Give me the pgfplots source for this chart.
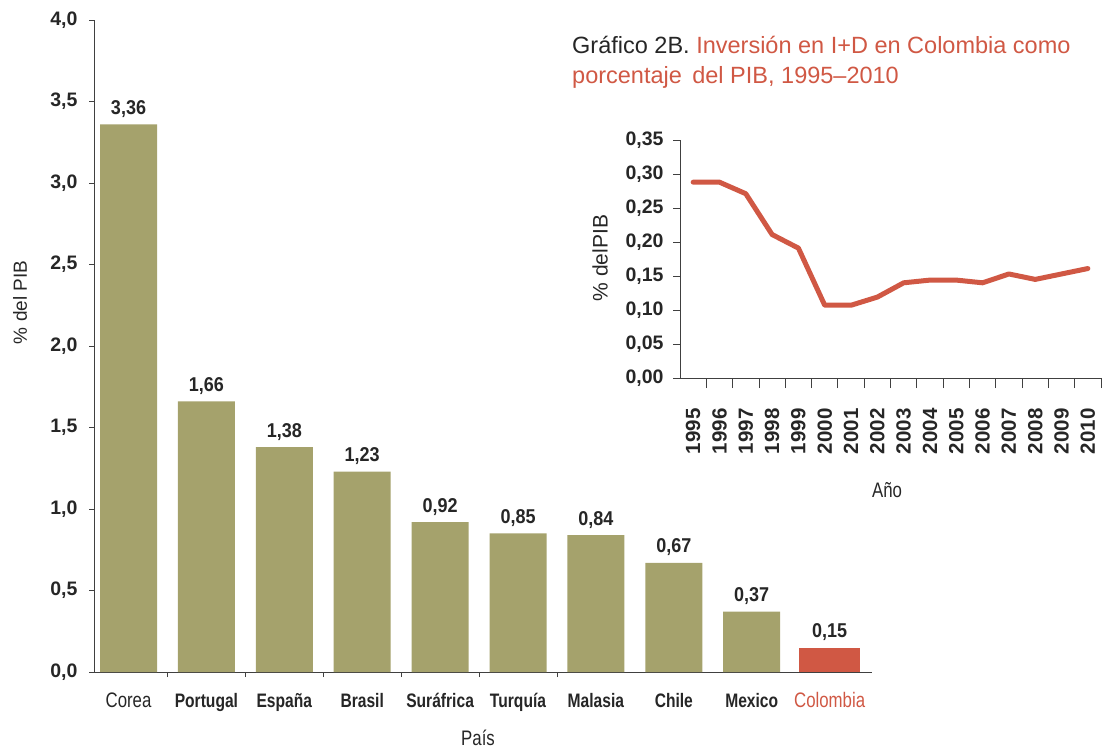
\documentclass[border=0pt]{standalone}
\usepackage{fontspec}
\setmainfont{Liberation Sans}
\newfontfamily\narrowfont[FakeStretch=0.80]{Liberation Sans}
\newfontfamily\midfont[FakeStretch=0.90]{Liberation Sans}
\usepackage{pgfplots}
\pgfplotsset{compat=1.18}
\definecolor{barolive}{HTML}{A5A26C}
\definecolor{colred}{HTML}{D05844}
\definecolor{txt}{HTML}{262626}
\newcommand{\fs}[1]{\fontsize{#1}{#1}\selectfont}
\begin{document}
\begin{tikzpicture}
\useasboundingbox (0pt,0pt) rectangle (1102pt,-753pt);
% ---------------- main bar chart ----------------
\begin{axis}[
  at={(94pt,-672pt)}, anchor=south west,
  scale only axis, width=778pt, height=652pt,
  xmin=-0.443, xmax=9.544, ymin=0, ymax=4,
  axis lines=left, axis line style={-, draw=black!75, line width=1pt},
  tick align=outside, major tick length=5pt,
  tick style={draw=black!75, line width=0.8pt},
  ytick={0,0.5,1,1.5,2,2.5,3,3.5,4},
  yticklabel style={font=\bfseries\fs{19.5}, text=txt, xshift=-8pt},
  /pgf/number format/.cd, use comma, fixed, fixed zerofill, precision=1, assume math mode=true, /pgfplots/.cd,
  xtick={0,1,2,3,4,5,6,7,8,9},
  x tick style={draw=none},
  xticklabels={{\fs{21}Corea},{\bfseries Portugal},{\bfseries España},{\bfseries Brasil},{\bfseries Suráfrica},{\bfseries Turquía},{\bfseries Malasia},{\bfseries Chile},{\bfseries Mexico},{\fs{21}\color{colred}Colombia}},
  xticklabel style={font=\narrowfont\fs{19.5}, text=txt, anchor=base, yshift=-30pt},
  extra x ticks={0.5,1.5,2.5,3.5,4.5,5.5},
  extra x tick labels={},
  extra x tick style={x tick style={draw=black!75, line width=0.8pt}},
  ylabel={\% del PIB},
  ylabel style={at={(axis description cs:-0.095,0.567)}, anchor=center, font=\fs{19}, text=txt},
  xlabel={País},
  xlabel style={at={(axis description cs:0.4936,-0.1006)}, anchor=center, font=\narrowfont\fs{21}, text=txt},
  clip=false,
]
\addplot[ybar, bar width=57pt, bar shift=0pt, fill=barolive, draw=none,
  nodes near coords={\pgfmathprintnumber[use comma, fixed, fixed zerofill, precision=2, assume math mode=true]{\pgfplotspointmeta}},
  nodes near coords style={font=\bfseries\midfont\fs{20}, text=txt, anchor=base, yshift=10pt}]
  coordinates {(0,3.36) (1,1.66) (2,1.38) (3,1.23) (4,0.92) (5,0.85) (6,0.84) (7,0.67) (8,0.37)};
\addplot[ybar, bar width=61pt, bar shift=0pt, fill=colred, draw=none,
  nodes near coords={\pgfmathprintnumber[use comma, fixed, fixed zerofill, precision=2, assume math mode=true]{\pgfplotspointmeta}},
  nodes near coords style={font=\bfseries\midfont\fs{20}, text=txt, anchor=base, yshift=10pt}]
  coordinates {(9,0.15)};
\end{axis}
% ---------------- inset line chart ----------------
\begin{axis}[
  at={(680pt,-378pt)}, anchor=south west,
  scale only axis, width=421pt, height=238pt,
  xmin=1994.5, xmax=2010.5, ymin=0, ymax=0.35,
  axis lines=left, axis line style={-, draw=black!75, line width=1pt},
  tick align=outside, major tick length=7pt, minor tick length=10pt,
  tick style={draw=black!75, line width=0.8pt},
  ytick={0,0.05,0.1,0.15,0.2,0.25,0.3,0.35},
  yticklabel style={font=\bfseries\fs{19.5}, text=txt, xshift=-6pt},
  /pgf/number format/.cd, use comma, fixed, fixed zerofill, precision=2, assume math mode=true, /pgfplots/.cd,
  xtick={1995,1996,1997,1998,1999,2000,2001,2002,2003,2004,2005,2006,2007,2008,2009,2010},
  xticklabels={1995,1996,1997,1998,1999,2000,2001,2002,2003,2004,2005,2006,2007,2008,2009,2010},
  x tick style={draw=none},
  minor xtick={1995.5,1996.5,1997.5,1998.5,1999.5,2000.5,2001.5,2002.5,2003.5,2004.5,2005.5,2006.5,2007.5,2008.5,2009.5,2010.5},
  minor x tick style={draw=black!75, line width=0.8pt},
  xticklabel style={font=\bfseries\fs{20.5}, text=txt, rotate=90, anchor=east, xshift=-20pt},
  ylabel={\% delPIB},
  ylabel style={at={(axis description cs:-0.19,0.504)}, anchor=center, font=\fs{21}, text=txt},
  xlabel={Año},
  xlabel style={at={(axis description cs:0.4917,-0.47)}, anchor=center, font=\narrowfont\fs{21}, text=txt},
  clip=false,
]
\addplot[colred, line width=5pt, line join=round, line cap=round, mark=none]
  coordinates {(1995,0.288) (1996,0.288) (1997,0.271) (1998,0.211) (1999,0.191) (2000,0.107) (2001,0.107) (2002,0.119) (2003,0.140) (2004,0.144) (2005,0.144) (2006,0.140) (2007,0.153) (2008,0.145) (2009,0.153) (2010,0.161)};
\end{axis}
% ---------------- title ----------------
\node[anchor=west, font=\fs{23.5}, inner sep=0pt] at (572pt,-45pt) {\color{txt}Gráfico 2B. \color{colred}Inversión en I+D en Colombia como};
\node[anchor=west, font=\fs{23.5}, inner sep=0pt, text=colred] at (572pt,-77pt) {porcentaje\, del PIB, 1995–2010};
\end{tikzpicture}
\end{document}
